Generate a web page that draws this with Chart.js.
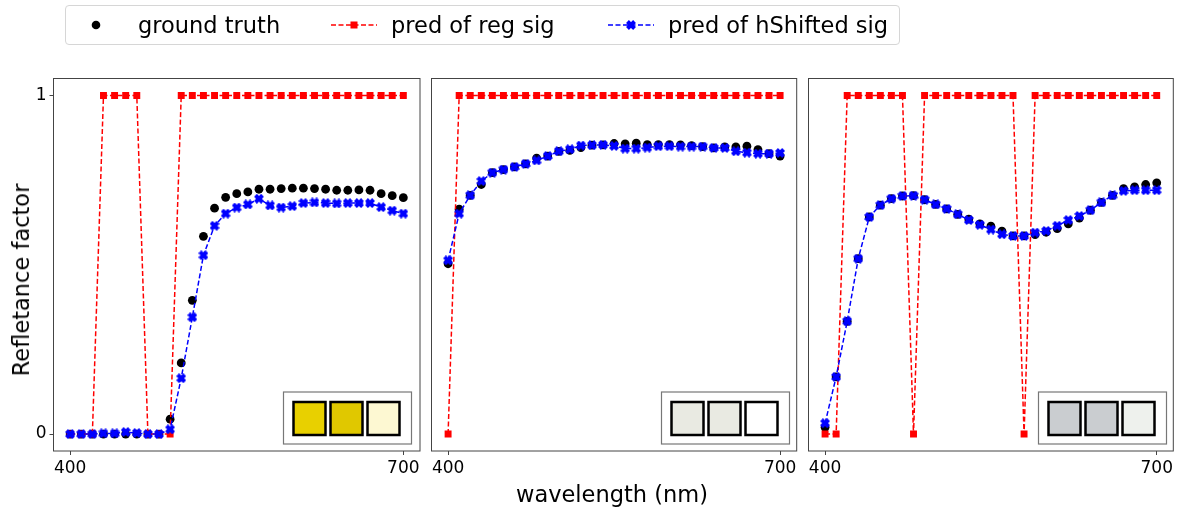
<!DOCTYPE html>
<html>
<head>
<meta charset="utf-8">
<script src="https://cdn.jsdelivr.net/npm/chart.js@4/dist/chart.umd.min.js"></script>
<style>
  html, body { margin: 0; padding: 0; background: #fff; }
  body { width: 1186px; height: 509px; position: relative; overflow: hidden; font-family: "DejaVu Sans", sans-serif; }
  canvas.panel { position: absolute; top: 70px; }
  #legend { position: absolute; left: 65px; top: 5px; width: 835px; height: 40px; border: 1px solid #d6d6d6; border-radius: 4px; box-sizing: border-box; }
  #legendCanvas { position: absolute; left: 0; top: 0; }
  .ltext { position: absolute; top: 6px; font-size: 22.5px; line-height: 26px; color: #000; white-space: nowrap; }
  #ytitle { position: absolute; left: 21px; top: 280px; transform: translate(-50%, -50%) rotate(-90deg); font-size: 22.5px; white-space: nowrap; color: #000; }
  #xtitle { position: absolute; left: 612px; top: 494px; transform: translate(-50%, -50%); font-size: 22.5px; white-space: nowrap; color: #000; }
</style>
</head>
<body>
<div id="legend">
  <canvas id="legendCanvas" width="835" height="40"></canvas>
  <span class="ltext" style="left:72px">ground truth</span>
  <span class="ltext" style="left:325px">pred of reg sig</span>
  <span class="ltext" style="left:602px">pred of hShifted sig</span>
</div>
<canvas class="panel" id="p1" width="430" height="430" style="left:0px"></canvas>
<canvas class="panel" id="p2" width="380" height="430" style="left:425px"></canvas>
<canvas class="panel" id="p3" width="384" height="430" style="left:802px"></canvas>
<div id="ytitle">Refletance factor</div>
<div id="xtitle">wavelength (nm)</div>
<script>
// ---------------- data ----------------
const wavelengths = [400,410,420,430,440,450,460,470,480,490,500,510,520,530,540,550,560,570,580,590,600,610,620,630,640,650,660,670,680,690,700];
const xTicks = [400, 700];
const yTicks = [0, 1];
const seriesNames = ['ground truth', 'pred of reg sig', 'pred of hShifted sig'];

// Panel 1
const truth1 = [0,0,0,0,0,0,0,0,0,0.044,0.21,0.395,0.584,0.667,0.699,0.71,0.715,0.723,0.723,0.725,0.726,0.726,0.725,0.723,0.72,0.72,0.721,0.72,0.71,0.704,0.698];
const reg1   = [0,0,0,1,1,1,1,0,0,0,1,1,1,1,1,1,1,1,1,1,1,1,1,1,1,1,1,1,1,1,1];
const shift1 = [0,0,0,0.002,0.002,0.006,0.003,0,0,0.014,0.165,0.345,0.528,0.615,0.651,0.669,0.678,0.695,0.675,0.669,0.673,0.682,0.684,0.682,0.681,0.682,0.682,0.682,0.67,0.66,0.651];
const swatch1 = ['#e8d000', '#e0c800', '#fdf8d2'];

// Panel 2
const truth2 = [0.503,0.664,0.705,0.737,0.772,0.781,0.789,0.798,0.815,0.821,0.835,0.838,0.846,0.853,0.854,0.858,0.857,0.859,0.855,0.855,0.855,0.854,0.852,0.849,0.845,0.848,0.848,0.85,0.84,0.828,0.821];
const reg2   = [0,1,1,1,1,1,1,1,1,1,1,1,1,1,1,1,1,1,1,1,1,1,1,1,1,1,1,1,1,1,1];
const shift2 = [0.513,0.651,0.705,0.747,0.772,0.781,0.789,0.798,0.808,0.821,0.835,0.841,0.852,0.853,0.854,0.851,0.843,0.843,0.846,0.85,0.85,0.849,0.849,0.849,0.845,0.845,0.835,0.831,0.828,0.828,0.83];
const swatch2 = ['#e9eae2', '#e9eae2', '#ffffff'];

// Panel 3
const truth3 = [0.02,0.169,0.333,0.518,0.641,0.676,0.695,0.703,0.704,0.692,0.678,0.665,0.649,0.635,0.621,0.614,0.599,0.585,0.585,0.589,0.596,0.607,0.621,0.638,0.661,0.684,0.705,0.725,0.73,0.737,0.742];
const reg3   = [0,0,1,1,1,1,1,1,0,1,1,1,1,1,1,1,1,1,0,1,1,1,1,1,1,1,1,1,1,1,1];
const shift3 = [0.032,0.169,0.333,0.518,0.641,0.676,0.695,0.703,0.704,0.692,0.678,0.665,0.649,0.632,0.618,0.604,0.59,0.585,0.585,0.595,0.6,0.615,0.632,0.644,0.661,0.684,0.705,0.718,0.72,0.72,0.72];
const swatch3 = ['#cacdd0', '#cacdd0', '#eef1ed'];

// ---------------- helpers ----------------
function toPts(vals) { return wavelengths.map((w, i) => ({ x: w, y: vals[i] })); }

function makeXMarker(color, size) {
  const c = document.createElement('canvas');
  c.width = size; c.height = size;
  const g = c.getContext('2d');
  const s = size / 2, t = size * 0.2;
  g.translate(s, s);
  g.rotate(Math.PI / 4);
  g.fillStyle = color;
  g.fillRect(-s, -t, 2 * s, 2 * t);
  g.fillRect(-t, -s, 2 * t, 2 * s);
  return c;
}
const blueX = makeXMarker('#0000ff', 10);

const framePlugin = {
  id: 'frame',
  afterDraw(chart, args, opts) {
    const { ctx, chartArea: a } = chart;
    ctx.save();
    // inset swatch box
    const bx = a.left + 230, by = a.top + 313.5, bw = 128, bh = 52;
    ctx.fillStyle = '#fff';
    ctx.fillRect(bx, by, bw, bh);
    ctx.strokeStyle = '#777';
    ctx.lineWidth = 1.2;
    ctx.strokeRect(bx, by, bw, bh);
    const offs = [10, 47, 84];
    opts.swatches.forEach((col, i) => {
      ctx.fillStyle = col;
      ctx.fillRect(bx + offs[i], by + 10, 32, 33);
      ctx.strokeStyle = '#000';
      ctx.lineWidth = 2.5;
      ctx.strokeRect(bx + offs[i], by + 10, 32, 33);
    });
    // axes frame
    ctx.strokeStyle = '#444';
    ctx.lineWidth = 1;
    ctx.strokeRect(a.left, a.top, a.right - a.left, a.bottom - a.top);
    ctx.restore();
  }
};

function makePanel(id, truth, reg, shift, swatches, cfg) {
  const tickFont = { family: 'DejaVu Sans', size: 17 };
  new Chart(document.getElementById(id), {
    type: 'line',
    data: {
      datasets: [
        { label: seriesNames[0], data: toPts(truth), showLine: false, pointStyle: 'circle', pointRadius: 4.4,
          pointBackgroundColor: '#000', pointBorderColor: '#000', pointBorderWidth: 0, order: 3 },
        { label: seriesNames[1], data: toPts(reg), borderColor: '#ff0000', borderWidth: 1.5, borderDash: [5, 2.5],
          pointStyle: 'rect', pointRadius: 4.9, pointBackgroundColor: '#ff0000', pointBorderWidth: 0, tension: 0, order: 2 },
        { label: seriesNames[2], data: toPts(shift), borderColor: '#0000ff', borderWidth: 1.5, borderDash: [5, 2.5],
          pointStyle: blueX, pointRadius: 5, tension: 0, order: 1 }
      ]
    },
    options: {
      responsive: false,
      animation: false,
      events: [],
      layout: { padding: { top: 8.5, right: cfg.padRight, left: 0, bottom: 0 } },
      plugins: { legend: { display: false }, tooltip: { enabled: false }, frame: { swatches } },
      scales: {
        x: {
          type: 'linear', min: 385, max: 715,
          afterBuildTicks: s => { s.ticks = xTicks.map(v => ({ value: v })); },
          afterFit: s => { s.height = 49; s.paddingLeft = 0; s.paddingRight = 0; },
          ticks: { font: tickFont, color: '#000', padding: 3, maxRotation: 0, autoSkip: false },
          grid: { display: true, drawOnChartArea: false, drawTicks: true, tickLength: 4, color: '#444' },
          border: { display: false }
        },
        y: {
          type: 'linear', min: -0.05, max: 1.05,
          afterBuildTicks: s => { s.ticks = yTicks.map(v => ({ value: v })); },
          afterFit: s => { s.width = cfg.yWidth; s.paddingTop = 0; s.paddingBottom = 0; },
          ticks: { display: cfg.showY, font: tickFont, color: '#000', padding: 3 },
          grid: { display: cfg.showY, drawOnChartArea: false, drawTicks: true, tickLength: 4, color: '#444' },
          border: { display: false }
        }
      }
    },
    plugins: [framePlugin]
  });
}

makePanel('p1', truth1, reg1, shift1, swatch1, { yWidth: 53.5, padRight: 10, showY: true });
makePanel('p2', truth2, reg2, shift2, swatch2, { yWidth: 5.5, padRight: 8.3, showY: false });
makePanel('p3', truth3, reg3, shift3, swatch3, { yWidth: 5.3, padRight: 12.7, showY: false });

// ---------------- legend samples ----------------
(function () {
  const g = document.getElementById('legendCanvas').getContext('2d');
  const cy = 19;
  g.fillStyle = '#000';
  g.beginPath(); g.arc(30, cy, 4.3, 0, Math.PI * 2); g.fill();
  g.strokeStyle = '#ff0000'; g.lineWidth = 1.5; g.setLineDash([5, 2.5]);
  g.beginPath(); g.moveTo(265, cy); g.lineTo(311, cy); g.stroke();
  g.fillStyle = '#ff0000'; g.fillRect(288 - 3.5, cy - 3.5, 7, 7);
  g.strokeStyle = '#0000ff';
  g.beginPath(); g.moveTo(542, cy); g.lineTo(588, cy); g.stroke();
  g.setLineDash([]);
  g.drawImage(blueX, 565 - 5, cy - 5);
})();
</script>
</body>
</html>
